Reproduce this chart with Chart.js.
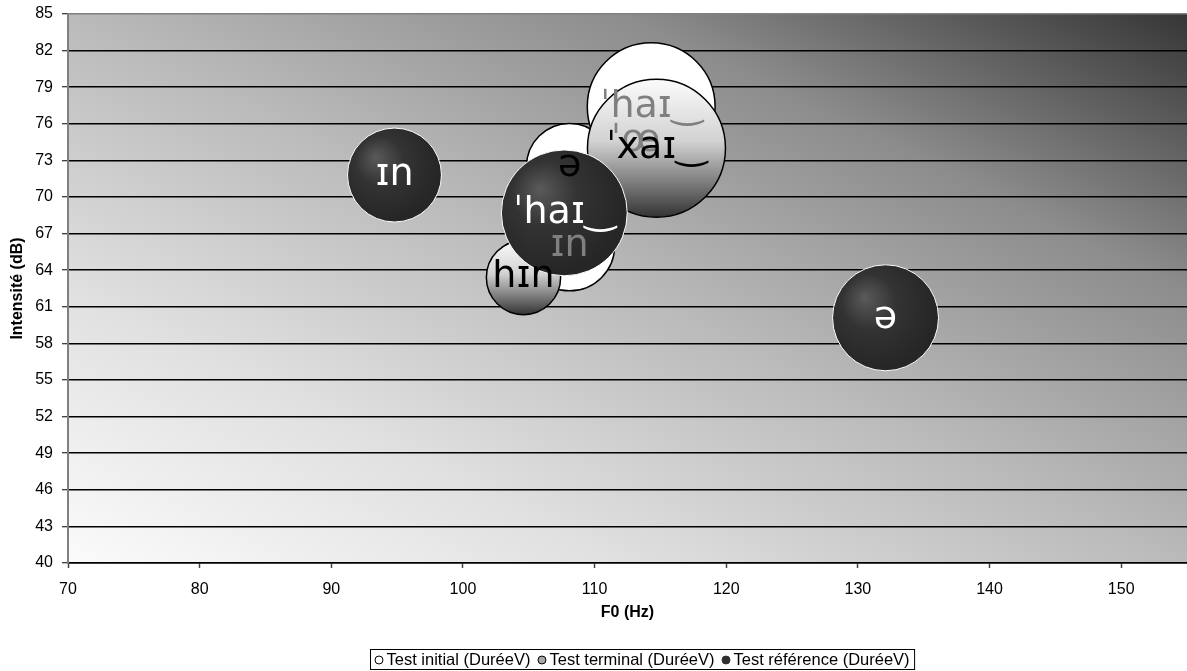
<!DOCTYPE html>
<html>
<head>
<meta charset="utf-8">
<script src="https://cdn.jsdelivr.net/npm/chart.js@4.4.1/dist/chart.umd.min.js"></script>
<style>
  body { margin: 0; background: #fff; }
  #wrap { width: 1187px; height: 671px; position: relative; }
</style>
</head>
<body>
<div id="wrap"><canvas id="myChart"></canvas></div>
<script>
// Series names (legend)
const seriesNames = ['Test initial (DuréeV)', 'Test terminal (DuréeV)', 'Test référence (DuréeV)'];

// Test initial
const initialLabels = ['ˈhaɪ‿', 'ˈœ', 'ə', 'ɪn'];
const initialF0 = [114.3, 113.1, 108.1, 108.1];
const initialDb = [77.4, 74.6, 72.5, 66.0];
const initialDur = [163, 84, 74, 81];

// Test terminal
const terminalLabels = ['hɪn', 'ˈxaɪ‿'];
const terminalF0 = [104.6, 114.7];
const terminalDb = [63.4, 74.0];
const terminalDur = [55, 190];

// Test référence
const referenceLabels = ['ɪn', 'ˈhaɪ‿', 'ə'];
const referenceF0 = [94.8, 107.7, 132.1];
const referenceDb = [71.8, 68.7, 60.1];
const referenceDur = [88, 158, 112];

// axis ticks
const xTicks = [70, 80, 90, 100, 110, 120, 130, 140, 150];
const yTicks = [40, 43, 46, 49, 52, 55, 58, 61, 64, 67, 70, 73, 76, 79, 82, 85];

// label colours per point (style)
const labelColors = [
  ['#808080', '#808080', '#000000', '#808080'],
  ['#000000', '#000000'],
  ['#ffffff', '#ffffff', '#ffffff']
];

// bubble area proportional to duration, biggest one gets R_MAX px
const R_MAX = 69;
const maxDur = Math.max(...initialDur, ...terminalDur, ...referenceDur);
const toPoints = (xs, ys, ds) => xs.map((x, i) => ({ x: x, y: ys[i], r: R_MAX * Math.sqrt(ds[i] / maxDur) }));

// pixel position of a point, for the gradients
function pixelOf(c) {
  const sx = c.chart.scales.x, sy = c.chart.scales.y;
  if (!sx || !sy || !c.raw) return null;
  const p = { x: sx.getPixelForValue(c.raw.x), y: sy.getPixelForValue(c.raw.y), r: c.raw.r };
  if (!isFinite(p.x) || !isFinite(p.y) || !isFinite(p.r)) return null;
  return p;
}

const grayFill = c => {
  const p = pixelOf(c);
  if (!p) return '#bbb';
  const g = c.chart.ctx.createLinearGradient(0, p.y - p.r, 0, p.y + p.r);
  g.addColorStop(0, '#fbfbfb');
  g.addColorStop(0.45, '#d2d2d2');
  g.addColorStop(0.8, '#6e6e6e');
  g.addColorStop(1, '#333333');
  return g;
};

const darkFill = c => {
  const p = pixelOf(c);
  if (!p) return '#2b2b2b';
  const g = c.chart.ctx.createRadialGradient(p.x - 0.4 * p.r, p.y - 0.38 * p.r, 0, p.x - 0.2 * p.r, p.y - 0.2 * p.r, p.r * 1.15);
  g.addColorStop(0, '#5a5a5a');
  g.addColorStop(0.45, '#333333');
  g.addColorStop(1, '#262626');
  return g;
};

// gradient background of the plot area
const plotBg = {
  id: 'plotBg',
  beforeDraw(chart) {
    const { ctx, chartArea: a } = chart;
    if (!a) return;
    const W = a.right - a.left, H = a.bottom - a.top;
    if (!(W > 0 && H > 0)) return;
    const k = 2 * W * H / (W * W + H * H);
    const g = ctx.createLinearGradient(a.left, a.bottom, a.left + H * k, a.bottom - W * k);
    g.addColorStop(0, '#fbfbfb');
    g.addColorStop(0.25, '#e0e0e0');
    g.addColorStop(0.5, '#bababa');
    g.addColorStop(0.75, '#8c8c8c');
    g.addColorStop(1, '#363636');
    ctx.save();
    ctx.fillStyle = g;
    ctx.fillRect(a.left, a.top, W, H);
    ctx.restore();
  }
};

// data labels drawn on top of all bubbles
const allLabels = [initialLabels, terminalLabels, referenceLabels];
const bubbleLabels = {
  id: 'bubbleLabels',
  afterDatasetsDraw(chart) {
    const ctx = chart.ctx;
    ctx.save();
    ctx.font = '38px "DejaVu Sans"';
    ctx.textAlign = 'center';
    ctx.textBaseline = 'middle';
    for (let d = 0; d < 3; d++) {
      const meta = chart.getDatasetMeta(d);
      meta.data.forEach((el, i) => {
        ctx.fillStyle = labelColors[d][i];
        ctx.fillText(allLabels[d][i], el.x, el.y);
      });
    }
    ctx.restore();
  }
};

// boxed legend at the bottom
const boxLegend = {
  id: 'boxLegend',
  afterDraw(chart) {
    const ctx = chart.ctx;
    ctx.save();
    ctx.font = '16.5px "Liberation Sans", Arial';
    ctx.textBaseline = 'middle';
    const widths = seriesNames.map(n => ctx.measureText(n).width);
    const itemW = widths.map(w => 13 + w);
    const gap = 6;
    const total = 4 + itemW.reduce((a, b) => a + b, 0) + gap * 2 + 4;
    const cx = 642, top = 649, h = 20;
    const left = Math.round(cx - total / 2) + 0.5;
    ctx.strokeStyle = '#000';
    ctx.lineWidth = 1;
    ctx.fillStyle = '#fff';
    ctx.fillRect(left, top + 0.5, total, h);
    ctx.strokeRect(left, top + 0.5, total, h);
    const fills = ['#ffffff', '#a8a8a8', '#303030'];
    const strokes = ['#000', '#000', '#303030'];
    let x = left + 4;
    const y = top + h / 2 + 1;
    for (let i = 0; i < 3; i++) {
      ctx.beginPath();
      ctx.arc(x + 4.5, y, 4, 0, Math.PI * 2);
      ctx.fillStyle = fills[i];
      ctx.fill();
      ctx.strokeStyle = strokes[i];
      ctx.stroke();
      ctx.fillStyle = '#000';
      ctx.fillText(seriesNames[i], x + 12, y);
      x += itemW[i] + gap;
    }
    ctx.restore();
  }
};

const ctx = document.getElementById('myChart');

new Chart(ctx, {
  type: 'bubble',
  data: {
    datasets: [
      {
        label: seriesNames[0],
        data: toPoints(initialF0, initialDb, initialDur),
        backgroundColor: '#ffffff',
        borderColor: '#000000',
        borderWidth: 1.5,
        order: 3
      },
      {
        label: seriesNames[1],
        data: toPoints(terminalF0, terminalDb, terminalDur),
        backgroundColor: grayFill,
        borderColor: '#000000',
        borderWidth: 1.5,
        order: 2
      },
      {
        label: seriesNames[2],
        data: toPoints(referenceF0, referenceDb, referenceDur),
        backgroundColor: darkFill,
        borderColor: '#ffffff',
        borderWidth: 1,
        order: 1
      }
    ]
  },
  plugins: [plotBg, bubbleLabels, boxLegend],
  options: {
    responsive: true,
    maintainAspectRatio: false,
    animation: false,
    events: [],
    layout: { autoPadding: false, padding: { top: 14, right: 0, bottom: 46, left: 0 } },
    plugins: {
      legend: { display: false },
      tooltip: { enabled: false }
    },
    scales: {
      x: {
        type: 'linear',
        min: 70,
        max: 155,
        afterBuildTicks: s => { s.ticks = xTicks.map(v => ({ value: v })); },
        afterFit: s => { s.height = 62; s.paddingLeft = 0; s.paddingRight = 0; },
        grid: { drawOnChartArea: false, drawTicks: true, tickLength: 5, tickColor: '#444', tickWidth: 1.5 },
        border: { color: '#000', width: 1.5 },
        ticks: { color: '#000', padding: 12, maxRotation: 0, font: { family: '"Liberation Sans", Arial', size: 16 } },
        title: {
          display: true,
          text: 'F0 (Hz)',
          color: '#000',
          padding: { top: 2, bottom: 3 },
          font: { family: '"Liberation Sans", Arial', size: 16, weight: 'bold' }
        }
      },
      y: {
        type: 'linear',
        min: 40,
        max: 85,
        afterBuildTicks: s => { s.ticks = yTicks.map(v => ({ value: v })); },
        afterFit: s => { s.width = 68; s.paddingTop = 0; s.paddingBottom = 0; },
        grid: {
          color: c => (c.tick && c.tick.value === 85 ? '#808080' : '#000'),
          lineWidth: 1.5,
          drawTicks: true,
          tickLength: 6,
          tickColor: '#000',
          tickWidth: 1
        },
        border: { color: '#808080', width: 2 },
        ticks: { color: '#000', padding: 9, font: { family: '"Liberation Sans", Arial', size: 16 } },
        title: {
          display: true,
          text: 'Intensité (dB)',
          color: '#000',
          padding: { top: 8, bottom: 0 },
          font: { family: '"Liberation Sans", Arial', size: 16, weight: 'bold' }
        }
      }
    }
  }
});
</script>
</body>
</html>
